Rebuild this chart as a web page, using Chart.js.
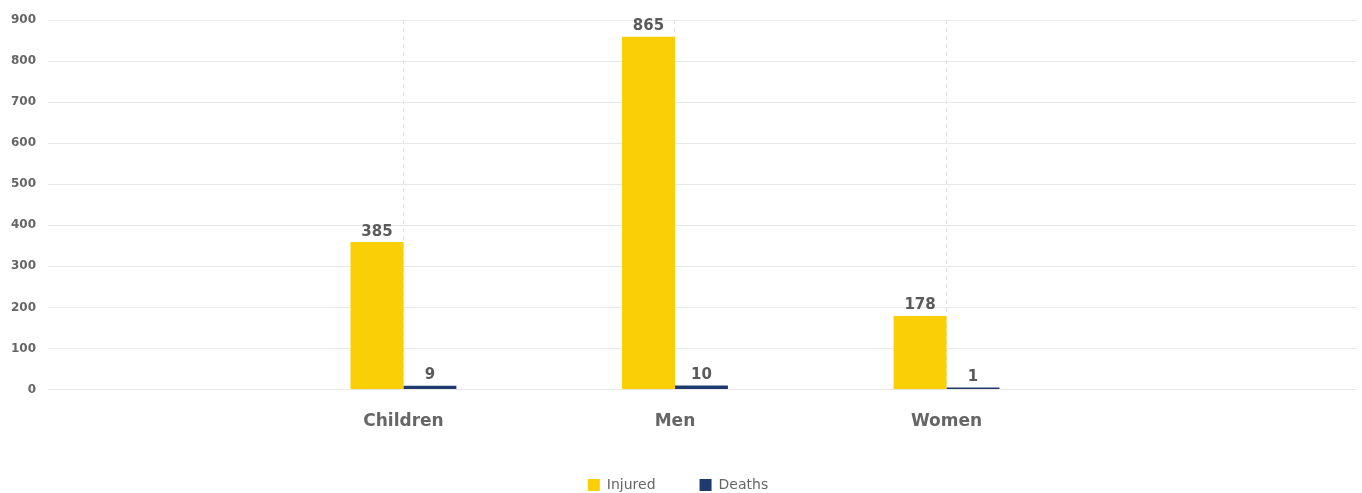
<!DOCTYPE html>
<html>
<head>
<meta charset="utf-8">
<script src="https://cdn.jsdelivr.net/npm/chart.js@4.4.1/dist/chart.umd.min.js"></script>
<style>
  html, body { margin: 0; padding: 0; background: #fff; overflow: hidden; }
  #wrap { width: 1362px; height: 502px; }
</style>
</head>
<body>
<div id="wrap"><canvas id="grafico"></canvas></div>
<script>
// dados do gráfico
const categorias = ['Children', 'Men', 'Women'];
const feridos = [359, 859, 179];            // altura das barras
const feridosRotulos = ['385', '865', '178']; // números escritos acima das barras
const mortes = [9, 10, 1];
const mortesRotulos = ['9', '10', '1'];
const yTicks = [0, 100, 200, 300, 400, 500, 600, 700, 800, 900];

const corTexto = '#666';
const fonte = 'DejaVu Sans, Open Sans, sans-serif';

// escreve o valor acima de cada barra
const rotulosPlugin = {
  id: 'rotulos',
  afterDatasetsDraw(chart) {
    const ctx = chart.ctx;
    ctx.save();
    ctx.font = '600 15px ' + fonte;
    ctx.fillStyle = '#5a5a5a';
    ctx.textAlign = 'center';
    ctx.textBaseline = 'bottom';
    chart.data.datasets.forEach((ds, i) => {
      const meta = chart.getDatasetMeta(i);
      meta.data.forEach((bar, j) => {
        ctx.fillText(ds.rotulos[j], bar.x, bar.y - 3);
      });
    });
    ctx.restore();
  }
};

const ctx = document.getElementById('grafico').getContext('2d');
new Chart(ctx, {
  type: 'bar',
  data: {
    datasets: [
      {
        label: 'Injured',
        data: feridos.map((v, i) => ({ x: i + 1, y: v })),
        rotulos: feridosRotulos,
        backgroundColor: '#facf05'
      },
      {
        label: 'Deaths',
        data: mortes.map((v, i) => ({ x: i + 1, y: v })),
        rotulos: mortesRotulos,
        backgroundColor: '#1f3a6e',
        minBarLength: 2
      }
    ]
  },
  options: {
    responsive: true,
    maintainAspectRatio: false,
    animation: false,
    layout: { padding: { top: 20, right: 6, left: 0, bottom: 0 } },
    datasets: {
      bar: { barPercentage: 1, categoryPercentage: 0.39 }
    },
    scales: {
      x: {
        type: 'linear',
        offset: false,
        min: -0.309,
        max: 4.508,
        afterBuildTicks(axis) {
          axis.ticks = categorias.map((c, i) => ({ value: i + 1 }));
        },
        afterFit(axis) { axis.height = 44.5; },
        ticks: {
          callback: (v) => categorias[v - 1],
          color: corTexto,
          font: { family: fonte, size: 17, weight: 'bold' },
          padding: 22,
          maxRotation: 0
        },
        grid: { color: '#e3e3e3', drawTicks: false, offset: false },
        border: { display: false, dash: [4, 4] }
      },
      y: {
        min: 0,
        max: 900,
        afterBuildTicks(axis) {
          axis.ticks = yTicks.map(v => ({ value: v }));
        },
        afterFit(axis) { axis.width = 48; },
        ticks: {
          color: corTexto,
          font: { family: fonte, size: 12, weight: 'bold' },
          padding: 12
        },
        grid: { color: '#e8e8e8', drawTicks: false },
        border: { display: false }
      }
    },
    plugins: {
      legend: {
        position: 'bottom',
        labels: {
          boxWidth: 12,
          boxHeight: 12,
          padding: 44,
          color: corTexto,
          font: { family: fonte, size: 14 }
        }
      },
      tooltip: { enabled: false }
    }
  },
  plugins: [rotulosPlugin]
});
</script>
</body>
</html>
